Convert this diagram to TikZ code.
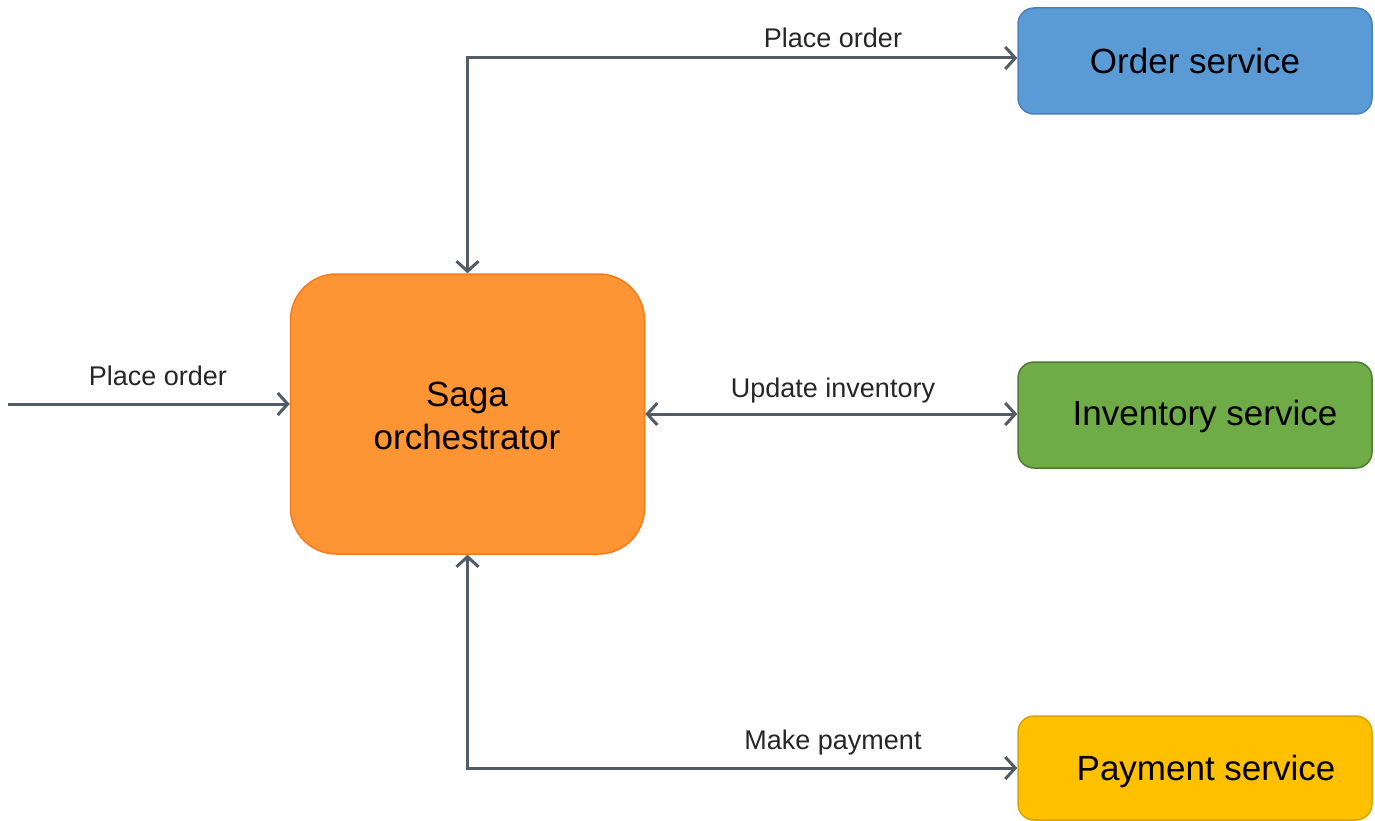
\documentclass[tikz,border=0pt]{standalone}
\usepackage{fontspec}
\setmainfont{Liberation Sans}
\usetikzlibrary{arrows.meta}
\definecolor{orchfill}{HTML}{FD9535}
\definecolor{orchdraw}{HTML}{F97A1A}
\definecolor{ordfill}{HTML}{5B9BD5}
\definecolor{orddraw}{HTML}{4A80BE}
\definecolor{invfill}{HTML}{6FAB46}
\definecolor{invdraw}{HTML}{4F7C31}
\definecolor{payfill}{HTML}{FFC000}
\definecolor{paydraw}{HTML}{D9A300}
\definecolor{linegray}{HTML}{525C66}
\tikzset{
  box/.style={rectangle, minimum width=354pt, inner sep=0pt, line width=1.5pt},
  svc/.style={box, minimum height=106pt, rounded corners=16pt},
  boxtext/.style={font=\fontsize{35}{43}\selectfont, text=black, align=center, inner sep=0pt},
  lbl/.style={font=\fontsize{27}{32}\selectfont, text=black!85, inner sep=0pt},
  conn/.style={draw=linegray, line width=3pt, >={Straight Barb[length=10pt,width=22pt]}}
}
\begin{document}
\begin{tikzpicture}[x=1pt,y=-1pt]
\useasboundingbox (0,0) rectangle (1375,821);
\node[box, minimum height=280pt, rounded corners=46pt, fill=orchfill, draw=orchdraw] (orch) at (467.5,414) {};
\node[boxtext] (orchtxt) at (467,416) {Saga\\orchestrator};
\node[svc, fill=ordfill, draw=orddraw] (order) at (1195,61) {};
\node[boxtext] (ordertxt) at (1195,61) {Order service};
\node[svc, fill=invfill, draw=invdraw] (inv) at (1195,415) {};
\node[boxtext] (invtxt) at (1205,416) {Inventory service};
\node[svc, minimum height=104pt, fill=payfill, draw=paydraw] (pay) at (1195,768) {};
\node[boxtext] (paytxt) at (1206,771) {Payment service};
\coordinate (src) at (8,404);
\draw[conn,->] (src) -- (src -| orch.west);
\draw[conn,<->] (orch.north) |- ([yshift=3pt]order.west);
\draw[conn,<->] (orch.east) -- (orch.east -| inv.west);
\draw[conn,<->] (orch.south) |- (pay.west);
\node[lbl] (l1) at (158,376) {Place order};
\node[lbl] (l2) at (833,38) {Place order};
\node[lbl] (l3) at (833,391) {Update inventory};
\node[lbl] (l4) at (833,743) {Make payment};
\end{tikzpicture}
\end{document}
